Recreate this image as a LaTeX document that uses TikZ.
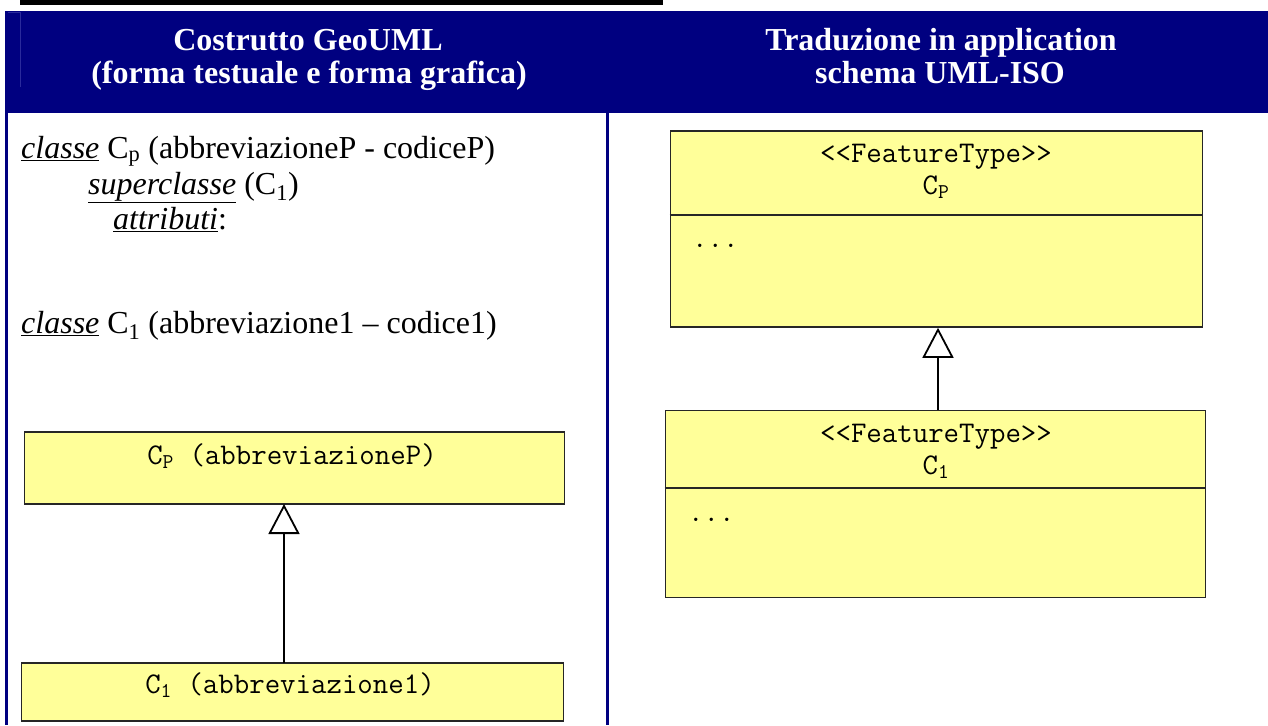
\documentclass[tikz,border=0pt]{standalone}
\usepackage{fontspec}
\setmainfont{Liberation Serif}
\usetikzlibrary{arrows.meta}
\definecolor{hdrblue}{HTML}{000080}
\definecolor{hdrfaint}{HTML}{2A2A9C}
\definecolor{clsyellow}{HTML}{FFFF99}
\newcommand{\myul}[1]{$\underline{\hbox{#1}}$}
\tikzset{
  hdrtext/.style={anchor=base, inner sep=0pt, text=white, font=\fontsize{32}{34}\selectfont\bfseries},
  bodytext/.style={anchor=base west, inner sep=0pt, font=\fontsize{32}{36}\selectfont},
  monotext/.style={anchor=base, inner sep=0pt, font=\fontsize{30}{32}\selectfont\ttfamily},
  clsbox/.style={draw=black!85, fill=clsyellow, line width=1.6pt, inner sep=0pt},
  gen/.style={line width=1.8pt, -{Triangle[open, length=30pt, width=31pt, line width=1.8pt]}},
}
\begin{document}
\begin{tikzpicture}[x=1pt,y=-1pt]
\useasboundingbox (0,0) rectangle (1268,725);
% top black bar
\fill[black] (20,0) rectangle (663,5);
% header
\fill[hdrblue] (5,11) rectangle (1268,113);
\draw[hdrfaint, line width=1pt] (7,113) -- (7,13) -- (20,13) -- (20,87);
% borders
\fill[hdrblue] (5,11) rectangle (8,725);
\fill[hdrblue] (606,113) rectangle (609,725);
% header texts
\node[hdrtext] (h1a) at (308,51) {Costrutto GeoUML};
\node[hdrtext] (h1b) at (309,83) {(forma testuale e forma grafica)};
\node[hdrtext] (h2a) at (941,51) {Traduzione in application};
\node[hdrtext] (h2b) at (940,83) {schema UML-ISO};
% textual form
\node[bodytext] (t1) at (21,158) {\myul{\textit{classe}} C\textsubscript{p} (abbreviazioneP - codiceP)};
\node[bodytext] (t2) at (88,194) {\myul{\textit{superclasse}} (C\textsubscript{1})};
\node[bodytext] (t3) at (113,229) {\myul{\textit{attributi}}:};
\node[bodytext] (t4) at (21,333) {\myul{\textit{classe}} C\textsubscript{1} (abbreviazione1 -- codice1)};
% left graphical form
\node[clsbox, minimum width=540pt, minimum height=72pt] (cp) at (294.5,468) {};
\node[monotext] (cpt) at (292,464) {C\textsubscript{P} (abbreviazioneP)};
\node[clsbox, minimum width=542pt, minimum height=58pt] (c1) at (292.5,692) {};
\node[monotext] (c1t) at (290,693) {C\textsubscript{1} (abbreviazione1)};
\coordinate (lbot) at (284,663);
\coordinate (ltop) at (284,504);
\draw[gen] (lbot) -- (ltop);
% right UML-ISO
\node[clsbox, minimum width=532pt, minimum height=196pt] (rp) at (936.5,229) {};
\draw[black!85, line width=1.6pt] (rp.west |- 0,215) -- (rp.east |- 0,215);
\node[monotext] (rpa) at (936,162) {<{}<FeatureType>{}>};
\node[monotext] (rpb) at (936,194) {C\textsubscript{P}};
\node[monotext, anchor=base west] (rpc) at (692,247) {...};
\node[clsbox, minimum width=540pt, minimum height=187pt] (r1) at (935.5,504) {};
\draw[black!85, line width=1.6pt] (r1.west |- 0,488) -- (r1.east |- 0,488);
\node[monotext] (r1a) at (936,442) {<{}<FeatureType>{}>};
\node[monotext] (r1b) at (936,474) {C\textsubscript{1}};
\node[monotext, anchor=base west] (r1c) at (688,521) {...};
\draw[gen] (r1.north -| 938,0) -- (rp.south -| 938,0);
\end{tikzpicture}
\end{document}
